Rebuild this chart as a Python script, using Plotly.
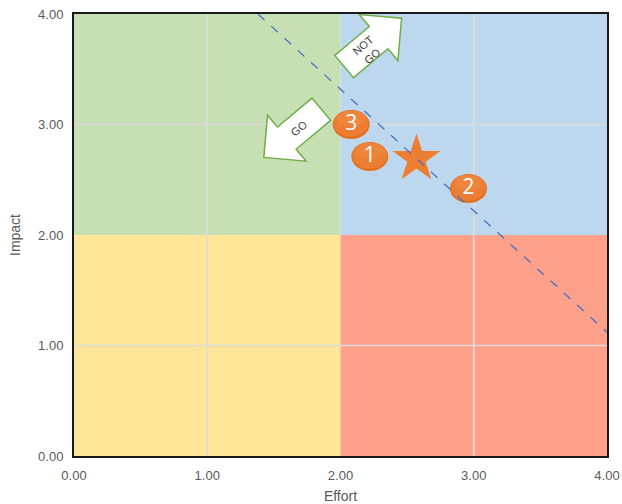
import math
import plotly.graph_objects as go

# Quadrant regions: (x0, x1, y0, y1, colour)
quad_x0 = [0, 2, 0, 2]
quad_x1 = [2, 4, 2, 4]
quad_y0 = [2, 2, 0, 0]
quad_y1 = [4, 4, 2, 2]
quad_colors = ["#C6E0B4", "#BDD7EE", "#FFE699", "#FFA08A"]

# Numbered initiatives (effort, impact)
item_labels = ["1", "2", "3"]
item_effort = [2.22, 2.96, 2.08]
item_impact = [2.71, 2.42, 3.00]

# Current position marker
star_effort = [2.57]
star_impact = [2.69]

# Go / not-go threshold line
line_effort = [1.38, 4.00]
line_impact = [4.00, 1.12]

# Direction arrows: label, centre (effort, impact), angle in degrees
arrow_labels = ["NOT<br>GO", "GO"]
arrow_effort = [2.24, 1.643]
arrow_impact = [3.74, 2.923]
arrow_angles = [40, 220]
arrow_text_effort = [2.21, 1.69]
arrow_text_impact = [3.67, 2.97]

tick_vals = [0, 1, 2, 3, 4]
tick_text = ["0.00", "1.00", "2.00", "3.00", "4.00"]
grid_vals = [1, 3]

fig = go.Figure()

shapes = []
for x0, x1, y0, y1, c in zip(quad_x0, quad_x1, quad_y0, quad_y1, quad_colors):
    shapes.append(dict(type="rect", xref="x", yref="y", x0=x0, x1=x1, y0=y0, y1=y1,
                       fillcolor=c, line=dict(width=0), layer="between"))

# light gridlines drawn over the quadrant fills
for g in grid_vals:
    shapes.append(dict(type="line", xref="x", yref="y", x0=g, x1=g, y0=0, y1=4,
                       line=dict(color="#DCDCDC", width=1.6), layer="between"))
    shapes.append(dict(type="line", xref="x", yref="y", x0=0, x1=4, y0=g, y1=g,
                       line=dict(color="#DCDCDC", width=1.6), layer="between"))


def arrow_path(angle_deg):
    # block arrow in local pixel frame, pointing along +u
    pts = [(-37, -14.5), (8, -14.5), (8, -30), (38, 0), (8, 30), (8, 14.5), (-37, 14.5)]
    a = math.radians(angle_deg)
    ca, sa = math.cos(a), math.sin(a)
    rot = [(u * ca - v * sa, u * sa + v * ca) for u, v in pts]
    return "M " + " L ".join(f"{px:.2f},{py:.2f}" for px, py in rot) + " Z"


for ex, iy, ang in zip(arrow_effort, arrow_impact, arrow_angles):
    shapes.append(dict(type="path", xref="x", yref="y", xsizemode="pixel", ysizemode="pixel",
                       xanchor=ex, yanchor=iy, path=arrow_path(ang),
                       fillcolor="white", line=dict(color="#70AD47", width=1.5), layer="between"))

# orange ellipses for numbered items, with a lighter upper sheen
for ex, iy in zip(item_effort, item_impact):
    shapes.append(dict(type="circle", xref="x", yref="y", xsizemode="pixel", ysizemode="pixel",
                       xanchor=ex, yanchor=iy, x0=-18.5, x1=18.5, y0=-14.5, y1=14.5,
                       fillcolor="#E3701F", line=dict(width=0), layer="between"))
    shapes.append(dict(type="circle", xref="x", yref="y", xsizemode="pixel", ysizemode="pixel",
                       xanchor=ex, yanchor=iy, x0=-17.5, x1=17.5, y0=-12, y1=14.3,
                       fillcolor="#EC7D33", line=dict(width=0), layer="between"))
    shapes.append(dict(type="circle", xref="x", yref="y", xsizemode="pixel", ysizemode="pixel",
                       xanchor=ex, yanchor=iy, x0=-14, x1=14, y0=-2, y1=13.5,
                       fillcolor="#F08A45", line=dict(width=0), opacity=0.6, layer="between"))

fig.add_trace(go.Scatter(
    x=star_effort, y=star_impact, mode="markers",
    marker=dict(symbol="star", size=36, color="#ED7D31", line=dict(width=0)),
    showlegend=False))

fig.add_trace(go.Scatter(
    x=line_effort, y=line_impact, mode="lines",
    line=dict(color="#4472C4", width=1.3, dash="dash"), hoverinfo="skip", showlegend=False))

fig.add_trace(go.Scatter(
    x=item_effort, y=item_impact, mode="text", text=item_labels,
    textfont=dict(color="white", size=21, family="Open Sans"), showlegend=False))

annotations = []
for lbl, ex, iy in zip(arrow_labels, arrow_text_effort, arrow_text_impact):
    annotations.append(dict(x=ex, y=iy, xref="x", yref="y", text=lbl, showarrow=False,
                            textangle=-40, font=dict(size=11, color="#404040", family="Liberation Sans")))

axis_common = dict(
    range=[0, 4], tickvals=tick_vals, ticktext=tick_text,
    showgrid=False, zeroline=False,
    showline=True, linecolor="#1a1a1a", linewidth=2, mirror=True,
    tickfont=dict(size=13, color="#595959", family="Liberation Sans"),
    ticks="", automargin=False,
)

fig.update_layout(
    width=622, height=504,
    margin=dict(l=74, r=15, t=14, b=48),
    plot_bgcolor="white", paper_bgcolor="white",
    shapes=shapes, annotations=annotations,
    xaxis=dict(axis_common, title=dict(text="Effort", standoff=10,
                                       font=dict(size=14, color="#595959", family="Liberation Sans")),
               ticklabelstandoff=6),
    yaxis=dict(axis_common, title=dict(text="Impact", standoff=14,
                                       font=dict(size=14, color="#595959", family="Liberation Sans")),
               ticklabelstandoff=6),
    showlegend=False,
)

fig.write_html("out.html")
